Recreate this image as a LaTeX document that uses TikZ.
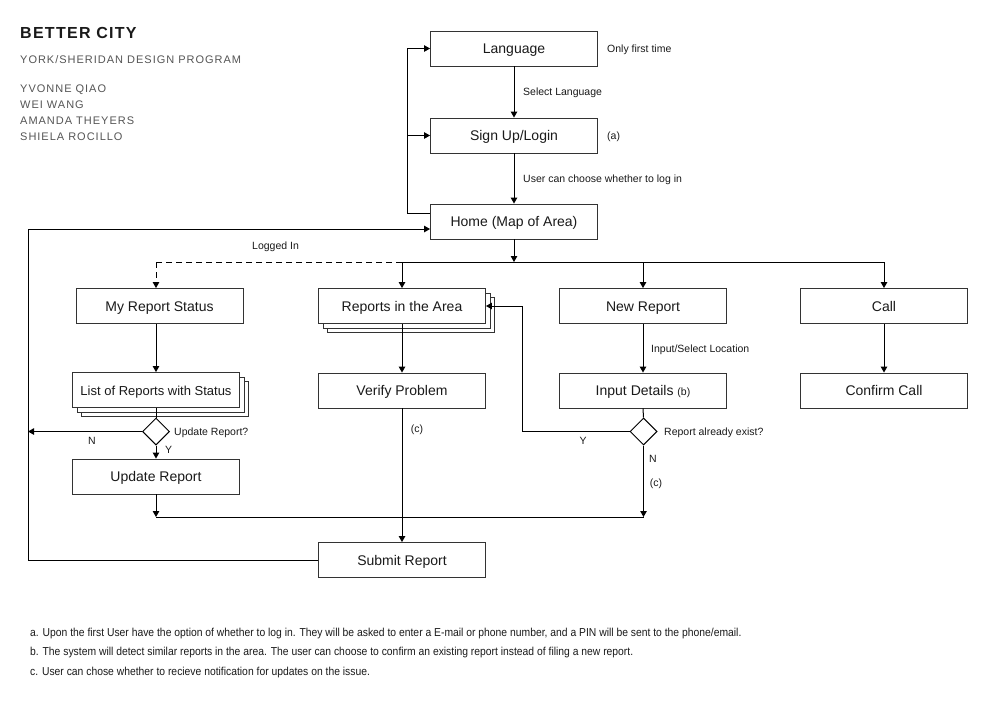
\documentclass[tikz,border=0pt]{standalone}
\usepackage{fontspec}
\setmainfont{Liberation Sans}
\newfontfamily\notefont{Liberation Sans}[FakeStretch=0.9]
\newfontfamily\spacedfont{Liberation Sans}[LetterSpace=9]
\usetikzlibrary{arrows.meta,shapes.geometric}
\definecolor{boxc}{HTML}{333333}
\definecolor{txt}{HTML}{1A1A1A}
\definecolor{graytxt}{HTML}{555555}
\begin{document}
\begin{tikzpicture}[x=1pt,y=-1pt,
  box/.style={draw=boxc, line width=0.9pt, fill=white, minimum width=167pt, minimum height=35pt, inner sep=0pt, font=\fontsize{14}{16}\selectfont, text=txt, text height=10pt, text depth=0pt},
  dia/.style={draw=black, line width=1pt, diamond, minimum width=27pt, minimum height=27pt, inner sep=0pt},
  lab/.style={font=\fontsize{10.5}{12}\selectfont, anchor=west, inner sep=0pt, text=txt, text height=7.5pt, text depth=0pt},
  yn/.style={font=\fontsize{10.5}{12}\selectfont, inner sep=0pt, text=txt, text height=7.5pt, text depth=0pt},
  note/.style={font=\notefont\fontsize{11.5}{13}\selectfont, anchor=west, inner sep=0pt, text=txt, text height=8.2pt, text depth=0pt},
  head/.style={anchor=west, inner sep=0pt, text=graytxt, font=\spacedfont\fontsize{11}{13}\selectfont, text height=7.9pt, text depth=0pt},
  conn/.style={draw=black, line width=1pt},
  arr/.style={conn, -{Triangle[length=6pt,width=6.5pt]}},
]
\useasboundingbox[fill=white] (0,0) rectangle (992,702);

% header
\node[anchor=west, inner sep=0pt, text=txt, text height=11.5pt, text depth=0pt, font={\addfontfeature{LetterSpace=8}\fontsize{16}{18}\selectfont\bfseries}] (title) at (20,33) {BETTER CITY};
\node[head] (prog) at (20,60) {YORK/SHERIDAN DESIGN PROGRAM};
\node[head] (n1) at (20,89) {YVONNE QIAO};
\node[head] (n2) at (20,105) {WEI WANG};
\node[head] (n3) at (20,121) {AMANDA THEYERS};
\node[head] (n4) at (20,137) {SHIELA ROCILLO};

% boxes
\node[box] (lang) at (514,48.5) {Language};
\node[box] (sign) at (514,135.5) {Sign Up/Login};
\node[box] (home) at (514,221.5) {Home (Map of Area)};
\node[box] (mrs) at (159.5,306) {My Report Status};
\node[box] (ria3) at (411,315) {};
\node[box] (ria2) at (406.5,310.5) {};
\node[box] (ria) at (402,306) {Reports in the Area};
\node[box] (nr) at (643,306) {New Report};
\node[box] (call) at (884,306) {Call};
\node[box] (lst3) at (165,399) {};
\node[box] (lst2) at (160.5,394.5) {};
\node[box, font=\fontsize{13}{15}\selectfont] (lst) at (156,390) {List of Reports with Status};
\node[box] (ver) at (402,390.5) {Verify Problem};
\node[box] (inp) at (643,390.5) {Input Details {\fontsize{10.5}{12}\selectfont(b)}};
\node[box] (cc) at (884,390.5) {Confirm Call};
\node[box] (upd) at (156,476.5) {Update Report};
\node[box] (sub) at (402,560) {Submit Report};
\node[dia] (d1) at (156,431.5) {};
\node[dia] (d2) at (643.5,431.5) {};

% coordinates
\coordinate (loopL) at (407,213);
\coordinate (bigL) at (28,560);
\coordinate (bus) at (514,262);
\coordinate (bus2) at (400,517);
\coordinate (yx) at (522,431.5);

% top loop
\draw[arr] ([yshift=8.5pt]home.west) -- (loopL) |- (lang.west);
\draw[arr] (loopL |- sign.west) -- (sign.west);
\draw[arr] (lang.south) -- (sign.north);
\draw[arr] (sign.south) -- (home.north);

% bus
\draw[arr] (home.south) -- (bus);
\draw[conn] (ria.north |- bus) -- (call.north |- bus);
\draw[arr] (ria.north |- bus) -- (ria.north);
\draw[arr] (nr.north |- bus) -- (nr.north);
\draw[arr] (call.north |- bus) -- (call.north);
\draw[conn, dash pattern=on 6pt off 4pt] (ria.north |- bus) -- (d1 |- bus);
\draw[arr, dash pattern=on 6pt off 4pt] (d1 |- bus) -- (d1 |- mrs.north);

% left column
\draw[arr] (d1 |- mrs.south) -- (d1 |- lst.north);
\draw[conn] (d1 |- lst.south) -- (d1.north);
\draw[arr] (d1.west) -- (bigL |- d1.west);
\draw[arr] (d1.south) -- (upd.north);
\draw[arr] (upd.south) -- (d1 |- bus2);
\draw[conn] (d1 |- bus2) -- (d2 |- bus2);

% middle column
\draw[arr] (ria.south) -- (ver.north);
\draw[arr] (ver.south) -- (sub.north);

% right column
\draw[arr] (nr.south) -- (inp.north);
\draw[conn] (inp.south) -- (d2.north);
\draw[arr] (d2.south) -- (d2 |- bus2);
\draw[arr] (d2.west) -- (yx) |- (ria.east);
\draw[arr] (call.south) -- (cc.north);

% big return loop
\draw[arr] (sub.west) -- (bigL) |- ([yshift=-7.5pt]home.west);

% labels
\node[lab] (l1) at (607,48.5) {Only first time};
\node[lab] (l2) at (607,136) {(a)};
\node[lab] (l3) at (523,92) {Select Language};
\node[lab] (l4) at (523,179) {User can choose whether to log in};
\node[lab] (l5) at (252,246) {Logged In};
\node[lab] (l6) at (651,349) {Input/Select Location};
\node[lab] (l7) at (174,431.5) {Update Report?};
\node[lab] (l8) at (664,431.5) {Report already exist?};
\node[yn] (nA) at (92,441) {N};
\node[yn] (yA) at (168.5,450) {Y};
\node[yn] (yB) at (583,441) {Y};
\node[yn] (nB) at (653,459) {N};
\node[yn] (cB) at (656,483) {(c)};
\node[yn] (cA) at (417,429) {(c)};

% footnotes
\node[note] (fa) at (30,632) {a. Upon the first User have the option of whether to log in. They will be asked to enter a E-mail or phone number, and a PIN will be sent to the phone/email.};
\node[note] (fb) at (30,651) {b. The system will detect similar reports in the area. The user can choose to confirm an existing report instead of filing a new report.};
\node[note] (fc) at (30,671) {c. User can chose whether to recieve notification for updates on the issue.};
\end{tikzpicture}
\end{document}
